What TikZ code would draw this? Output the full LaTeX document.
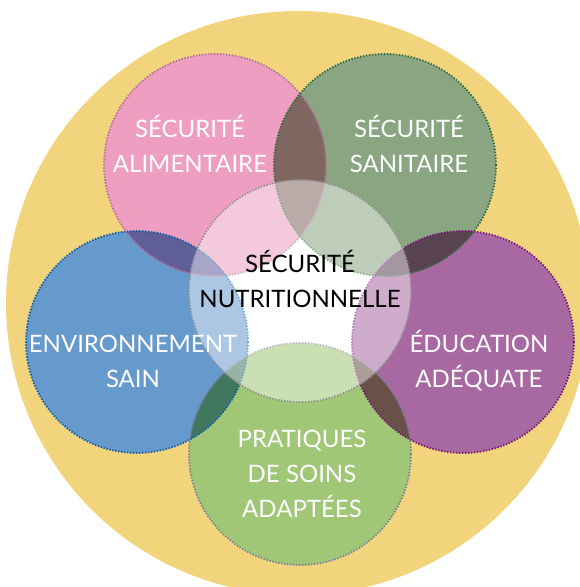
\documentclass[tikz,border=0pt]{standalone}
\usepackage{fontspec}
\setmainfont{Lato}

\definecolor{jaune}{HTML}{F2D47C}
\definecolor{rose}{HTML}{EE9EC0}
\definecolor{sauge}{HTML}{8AA581}
\definecolor{bleu}{HTML}{6699CC}
\definecolor{violet}{HTML}{A869A2}
\definecolor{vert}{HTML}{A0C776}
\definecolor{rosebord}{HTML}{B0709C}
\definecolor{saugebord}{HTML}{2E6B3C}
\definecolor{bleubord}{HTML}{0F5EA8}
\definecolor{violetbord}{HTML}{7A1478}
\definecolor{vertbord}{HTML}{7D7E9C}
\definecolor{coeurbord}{HTML}{8F8F8F}

\tikzset{
  cercle/.style={circle, minimum size=222pt, inner sep=0pt},
  pointille/.style={line width=1.8pt, dash pattern=on 1.4pt off 1.6pt},
  titre/.style={text=white, font=\fontsize{24}{35}\selectfont, align=center, inner sep=0pt}
}

\begin{document}
\begin{tikzpicture}[x=1pt, y=-1pt]
  \useasboundingbox (0,0) rectangle (580,587);
  \clip (0,0) rectangle (580,587);

  % fond
  \fill[jaune] (298,303) circle[radius=292];
  \node[cercle, fill=white] (coeur) at (300,291) {};

  % les cinq cercles, teintes multipliees entre elles
  \begin{scope}[transparency group]
    \begin{scope}[blend mode=multiply]
      \node[cercle, fill=rose] (alim) at (215,165) {};
      \node[cercle, fill=sauge] (sanit) at (385,165) {};
      \node[cercle, fill=bleu] (envir) at (137,342) {};
      \node[cercle, fill=violet] (educ) at (463,342) {};
      \node[cercle, fill=vert] (soins) at (300,454) {};
    \end{scope}
  \end{scope}

  % contours
  \draw[pointille, rosebord] (alim.center) circle[radius=111];
  \draw[pointille, saugebord] (sanit.center) circle[radius=111];
  \draw[pointille, bleubord] (envir.center) circle[radius=111];
  \draw[pointille, violetbord] (educ.center) circle[radius=111];
  \draw[pointille, vertbord] (soins.center) circle[radius=111];

  % voile blanc au centre
  \fill[white, fill opacity=0.45] (coeur.center) circle[radius=111];
  \draw[pointille, coeurbord] (coeur.center) circle[radius=111];

  % textes (ancre sur la derniere ligne)
  \node[titre, anchor=base] (t-alim) at (190,172) {SÉCURITÉ\\ALIMENTAIRE};
  \node[titre, anchor=base] (t-sanit) at (409,172) {SÉCURITÉ\\SANITAIRE};
  \node[titre, anchor=base] (t-envir) at (133,387) {ENVIRONNEMENT\\SAIN};
  \node[titre, anchor=base] (t-educ) at (479,387) {ÉDUCATION\\ADÉQUATE};
  \node[titre, anchor=base] (t-soins) at (302,517) {PRATIQUES\\DE SOINS\\ADAPTÉES};
  \node[titre, anchor=base, text=black] (t-coeur) at (300,307) {SÉCURITÉ\\NUTRITIONNELLE};
\end{tikzpicture}
\end{document}
